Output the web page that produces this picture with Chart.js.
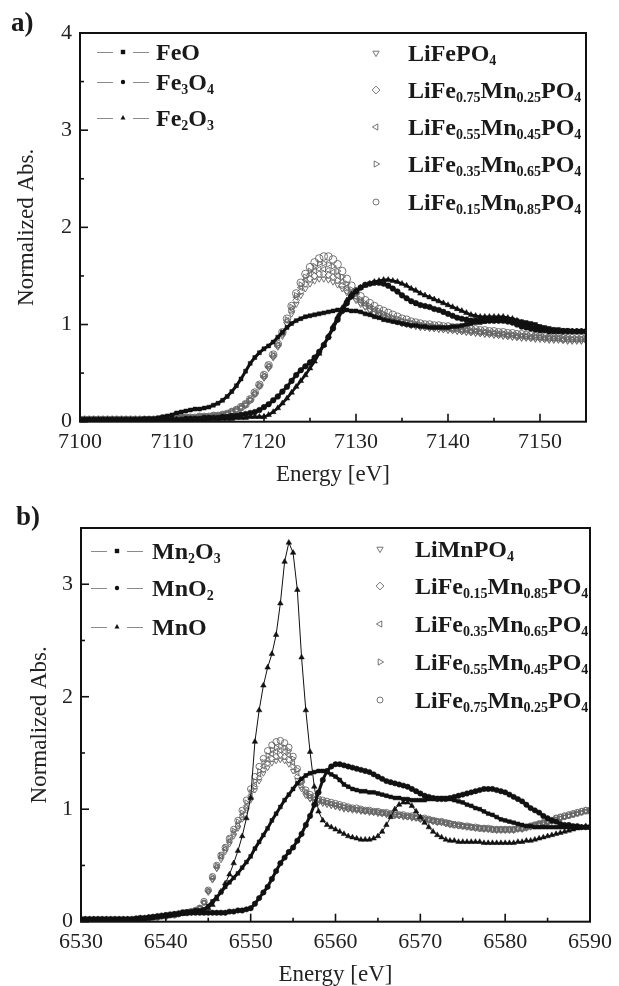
<!DOCTYPE HTML>
<html>
<head>
<title>Fe and Mn K-edge XANES</title>
<script src="https://cdn.jsdelivr.net/npm/chart.js@4.4.0/dist/chart.umd.min.js"></script>
<style>
  body { margin: 0; background: #fff; }
  #page { position: relative; width: 619px; height: 986px; overflow: hidden; font-family: "Liberation Serif", "DejaVu Serif", serif; color: #1a1a1a; }
  canvas.plot { position: absolute; left: 0; }
  .tag { position: absolute; font-weight: bold; font-size: 27px; line-height: 30px; }
  .row { position: absolute; display: flex; align-items: flex-start; white-space: nowrap; }
  .row canvas { display: block; }
  .lbl { font-weight: bold; font-size: 24px; line-height: 24px; }
  .lbl sub { font-size: 14px; vertical-align: baseline; position: relative; top: 8px; }
</style>
</head>
<body>
<div id="page">
  <canvas id="chart-a" class="plot" width="619" height="493" style="top:0"></canvas>
  <canvas id="chart-b" class="plot" width="619" height="493" style="top:493px"></canvas>
  <div class="tag" style="left:11px;top:7px">a)</div>
  <div class="tag" style="left:16px;top:501px">b)</div>
  <div id="legend"></div>
</div>
<script>
    // ---- panel a : Fe K-edge ----
    var energyA = [
        7100,7100.5,7101,7101.5,7102,7102.5,7103,7103.5,7104,7104.5,
        7105,7105.5,7106,7106.5,7107,7107.5,7108,7108.5,7109,7109.5,
        7110,7110.5,7111,7111.5,7112,7112.5,7113,7113.5,7114,7114.5,
        7115,7115.5,7116,7116.5,7117,7117.5,7118,7118.5,7119,7119.5,
        7120,7120.5,7121,7121.5,7122,7122.5,7123,7123.5,7124,7124.5,
        7125,7125.5,7126,7126.5,7127,7127.5,7128,7128.5,7129,7129.5,
        7130,7130.5,7131,7131.5,7132,7132.5,7133,7133.5,7134,7134.5,
        7135,7135.5,7136,7136.5,7137,7137.5,7138,7138.5,7139,7139.5,
        7140,7140.5,7141,7141.5,7142,7142.5,7143,7143.5,7144,7144.5,
        7145,7145.5,7146,7146.5,7147,7147.5,7148,7148.5,7149,7149.5,
        7150,7150.5,7151,7151.5,7152,7152.5,7153,7153.5,7154,7154.5,
        7155];

    var feO = [
        .02,.02,.02,.02,.02,.02,.02,.02,.02,.02,
        .02,.02,.02,.02,.03,.03,.03,.04,.05,.06,
        .07,.09,.10,.11,.12,.13,.13,.14,.15,.17,
        .19,.22,.26,.31,.37,.44,.52,.60,.66,.71,
        .75,.78,.82,.87,.92,.97,1.01,1.04,1.06,1.08,
        1.09,1.10,1.11,1.12,1.13,1.14,1.15,1.15,1.15,1.14,
        1.14,1.13,1.11,1.10,1.08,1.07,1.05,1.04,1.03,1.02,
        1.01,1.00,.99,.99,.98,.98,.97,.97,.97,.97,
        .97,.98,.98,.99,1.00,1.01,1.02,1.02,1.03,1.04,
        1.04,1.05,1.05,1.05,1.05,1.04,1.03,1.02,1.01,1.00,
        .98,.97,.96,.95,.95,.94,.94,.93,.93,.93,
        .93];
    var fe3O4 = [
        .02,.02,.02,.02,.02,.02,.02,.02,.02,.02,
        .02,.02,.02,.02,.02,.02,.02,.02,.02,.02,
        .02,.02,.02,.03,.03,.03,.03,.04,.04,.04,
        .04,.05,.05,.06,.06,.07,.08,.09,.10,.12,
        .15,.18,.22,.26,.31,.36,.42,.48,.53,.57,
        .61,.66,.72,.79,.87,.96,1.05,1.14,1.22,1.29,
        1.34,1.38,1.41,1.42,1.43,1.43,1.42,1.40,1.37,1.34,
        1.30,1.27,1.24,1.22,1.20,1.19,1.18,1.16,1.15,1.13,
        1.11,1.09,1.07,1.06,1.05,1.04,1.04,1.04,1.04,1.04,
        1.04,1.04,1.04,1.03,1.02,1.00,.98,.97,.96,.95,
        .94,.94,.93,.93,.93,.93,.93,.93,.93,.93,
        .93];
    var fe2O3 = [
        .02,.02,.02,.02,.02,.02,.02,.02,.02,.02,
        .02,.02,.02,.02,.02,.02,.02,.02,.02,.02,
        .02,.02,.02,.02,.02,.02,.02,.02,.03,.03,
        .03,.03,.03,.03,.04,.04,.04,.05,.05,.05,
        .05,.07,.10,.14,.19,.24,.30,.36,.42,.48,
        .55,.62,.70,.79,.88,.98,1.08,1.17,1.25,1.31,
        1.35,1.38,1.40,1.42,1.44,1.45,1.46,1.46,1.45,1.44,
        1.42,1.40,1.37,1.35,1.32,1.30,1.28,1.26,1.24,1.22,
        1.20,1.18,1.16,1.14,1.12,1.10,1.09,1.08,1.08,1.08,
        1.08,1.08,1.08,1.07,1.06,1.04,1.02,1.00,.98,.97,
        .96,.95,.94,.94,.93,.93,.93,.93,.93,.93,
        .93];
    var liFePO4 = [
        .02,.02,.02,.02,.02,.02,.02,.02,.02,.02,
        .02,.02,.02,.02,.02,.02,.02,.02,.03,.03,
        .03,.03,.04,.04,.04,.04,.05,.05,.05,.06,
        .06,.07,.08,.09,.11,.14,.17,.22,.28,.36,
        .45,.55,.66,.77,.88,1.00,1.11,1.21,1.30,1.37,
        1.42,1.45,1.47,1.47,1.46,1.44,1.41,1.37,1.33,1.29,
        1.25,1.21,1.18,1.15,1.12,1.10,1.08,1.06,1.04,1.03,
        1.01,1.00,.99,.98,.97,.97,.96,.96,.95,.95,
        .94,.94,.93,.93,.92,.92,.91,.91,.90,.90,
        .89,.89,.88,.88,.87,.87,.86,.86,.86,.85,
        .85,.85,.84,.84,.84,.84,.83,.83,.83,.83,
        .83];
    var fe75A = [
        .02,.02,.02,.02,.02,.02,.02,.02,.02,.02,
        .02,.02,.02,.02,.02,.02,.02,.02,.03,.03,
        .03,.03,.04,.04,.04,.04,.05,.05,.05,.06,
        .06,.07,.08,.10,.12,.14,.18,.22,.29,.37,
        .46,.56,.67,.78,.90,1.02,1.14,1.25,1.34,1.42,
        1.47,1.50,1.52,1.52,1.51,1.49,1.45,1.40,1.35,1.31,
        1.27,1.23,1.19,1.16,1.13,1.11,1.09,1.07,1.05,1.03,
        1.02,1.01,1.00,.99,.98,.97,.97,.96,.96,.95,
        .95,.94,.94,.93,.93,.92,.92,.91,.91,.90,
        .90,.89,.89,.88,.88,.87,.87,.87,.86,.86,
        .86,.85,.85,.85,.85,.84,.84,.84,.84,.84,
        .84];
    var fe55A = [
        .02,.02,.02,.02,.02,.02,.02,.02,.02,.02,
        .02,.02,.02,.02,.02,.02,.02,.02,.03,.03,
        .03,.03,.04,.04,.04,.04,.05,.05,.05,.06,
        .06,.07,.08,.10,.12,.15,.18,.23,.29,.37,
        .47,.57,.68,.79,.91,1.04,1.16,1.28,1.38,1.46,
        1.52,1.55,1.57,1.57,1.56,1.54,1.50,1.44,1.38,1.33,
        1.28,1.24,1.21,1.18,1.15,1.12,1.10,1.08,1.06,1.05,
        1.03,1.02,1.01,1.00,.99,.98,.98,.97,.97,.96,
        .96,.95,.95,.94,.94,.93,.93,.92,.92,.91,
        .91,.90,.90,.89,.89,.88,.88,.88,.87,.87,
        .87,.86,.86,.86,.86,.85,.85,.85,.85,.85,
        .85];
    var fe35A = [
        .02,.02,.02,.02,.02,.02,.02,.02,.02,.02,
        .02,.02,.02,.02,.02,.02,.02,.02,.03,.03,
        .03,.03,.04,.04,.04,.04,.05,.05,.05,.06,
        .06,.07,.08,.10,.12,.15,.18,.23,.30,.38,
        .48,.58,.69,.80,.92,1.05,1.18,1.30,1.41,1.49,
        1.55,1.60,1.63,1.63,1.62,1.60,1.55,1.49,1.42,1.36,
        1.31,1.26,1.22,1.19,1.16,1.14,1.11,1.09,1.07,1.06,
        1.04,1.03,1.02,1.01,1.00,.99,.99,.98,.98,.97,
        .97,.96,.96,.95,.95,.94,.94,.93,.93,.92,
        .92,.91,.91,.90,.90,.89,.89,.88,.88,.88,
        .87,.87,.87,.86,.86,.86,.86,.85,.85,.85,
        .85];
    var fe15A = [
        .02,.02,.02,.02,.02,.02,.02,.02,.02,.02,
        .02,.02,.02,.02,.02,.02,.02,.02,.03,.03,
        .03,.03,.04,.04,.04,.04,.05,.05,.05,.06,
        .06,.07,.08,.10,.12,.15,.18,.23,.30,.38,
        .48,.58,.69,.80,.92,1.06,1.19,1.32,1.43,1.52,
        1.59,1.64,1.68,1.70,1.70,1.67,1.62,1.55,1.47,1.40,
        1.34,1.29,1.25,1.22,1.19,1.16,1.14,1.12,1.10,1.08,
        1.06,1.05,1.03,1.02,1.01,1.00,1.00,.99,.99,.98,
        .98,.97,.97,.96,.96,.95,.95,.94,.94,.93,
        .93,.92,.92,.91,.91,.90,.90,.89,.89,.88,
        .88,.88,.87,.87,.87,.86,.86,.86,.86,.86,
        .86];

    // ---- panel b : Mn K-edge ----
    var energyB = [
        6530,6530.5,6531,6531.5,6532,6532.5,6533,6533.5,6534,6534.5,
        6535,6535.5,6536,6536.5,6537,6537.5,6538,6538.5,6539,6539.5,
        6540,6540.5,6541,6541.5,6542,6542.5,6543,6543.5,6544,6544.5,
        6545,6545.5,6546,6546.5,6547,6547.5,6548,6548.5,6549,6549.5,
        6550,6550.5,6551,6551.5,6552,6552.5,6553,6553.5,6554,6554.5,
        6555,6555.5,6556,6556.5,6557,6557.5,6558,6558.5,6559,6559.5,
        6560,6560.5,6561,6561.5,6562,6562.5,6563,6563.5,6564,6564.5,
        6565,6565.5,6566,6566.5,6567,6567.5,6568,6568.5,6569,6569.5,
        6570,6570.5,6571,6571.5,6572,6572.5,6573,6573.5,6574,6574.5,
        6575,6575.5,6576,6576.5,6577,6577.5,6578,6578.5,6579,6579.5,
        6580,6580.5,6581,6581.5,6582,6582.5,6583,6583.5,6584,6584.5,
        6585,6585.5,6586,6586.5,6587,6587.5,6588,6588.5,6589,6589.5,
        6590];

    var mn2O3 = [
        .02,.02,.02,.02,.02,.02,.02,.02,.02,.02,
        .02,.02,.02,.02,.03,.03,.03,.04,.04,.05,
        .05,.06,.06,.07,.08,.09,.09,.10,.10,.11,
        .14,.18,.22,.26,.31,.35,.39,.43,.48,.53,
        .58,.65,.71,.77,.83,.90,.96,1.02,1.08,1.13,
        1.18,1.23,1.27,1.30,1.32,1.33,1.34,1.34,1.33,1.31,
        1.29,1.26,1.22,1.20,1.18,1.17,1.16,1.16,1.15,1.15,
        1.14,1.13,1.12,1.11,1.10,1.10,1.09,1.09,1.08,1.08,
        1.08,1.08,1.09,1.09,1.10,1.10,1.10,1.09,1.08,1.07,
        1.06,1.04,1.03,1.01,1.00,.98,.96,.95,.93,.91,
        .90,.89,.88,.87,.86,.85,.85,.84,.84,.84,
        .84,.84,.84,.84,.84,.84,.84,.84,.84,.84,
        .84];
    var mnO2 = [
        .02,.02,.02,.02,.02,.02,.02,.02,.02,.02,
        .02,.02,.02,.03,.03,.03,.04,.04,.05,.05,
        .06,.06,.07,.07,.08,.08,.08,.08,.08,.08,
        .08,.08,.08,.08,.08,.09,.09,.10,.10,.11,
        .12,.16,.21,.26,.31,.38,.45,.52,.57,.62,
        .66,.72,.78,.86,.94,1.04,1.15,1.26,1.34,1.38,
        1.40,1.40,1.39,1.38,1.37,1.36,1.35,1.34,1.33,1.31,
        1.29,1.27,1.25,1.24,1.23,1.22,1.21,1.20,1.18,1.16,
        1.14,1.12,1.11,1.10,1.09,1.09,1.09,1.10,1.11,1.12,
        1.13,1.14,1.15,1.16,1.17,1.18,1.18,1.18,1.17,1.16,
        1.15,1.13,1.11,1.09,1.07,1.04,1.01,.99,.97,.94,
        .92,.90,.89,.87,.86,.86,.85,.85,.84,.84,
        .84];
    var mnO = [
        .02,.02,.02,.02,.02,.02,.02,.02,.02,.02,
        .02,.02,.02,.02,.03,.03,.03,.04,.04,.05,
        .05,.06,.06,.07,.07,.08,.08,.09,.09,.10,
        .12,.15,.20,.27,.34,.42,.52,.63,.76,.92,
        1.10,1.60,1.88,2.10,2.26,2.38,2.55,2.83,3.20,3.37,
        3.28,2.95,2.35,1.88,1.51,1.20,.98,.90,.86,.84,
        .82,.80,.78,.76,.75,.74,.73,.73,.73,.74,
        .76,.80,.86,.93,1.00,1.04,1.06,1.06,1.03,.98,
        .93,.88,.84,.80,.77,.75,.73,.72,.72,.71,
        .71,.71,.71,.71,.71,.70,.70,.70,.70,.70,
        .70,.70,.70,.71,.71,.72,.72,.73,.74,.75,
        .76,.77,.78,.79,.80,.81,.82,.83,.84,.85,
        .85];
    var liMnPO4 = [
        .02,.02,.02,.02,.02,.02,.02,.02,.02,.02,
        .02,.02,.02,.02,.03,.03,.03,.04,.04,.05,
        .05,.06,.06,.07,.08,.08,.09,.10,.12,.17,
        .26,.37,.47,.55,.62,.69,.76,.83,.91,.99,
        1.08,1.17,1.25,1.32,1.37,1.41,1.43,1.44,1.43,1.40,
        1.34,1.26,1.18,1.12,1.09,1.07,1.06,1.05,1.04,1.03,
        1.02,1.01,1.00,1.00,.99,.99,.98,.98,.97,.97,
        .96,.96,.95,.95,.94,.94,.93,.93,.92,.92,
        .91,.90,.90,.89,.88,.88,.87,.86,.86,.85,
        .85,.84,.84,.83,.83,.82,.82,.82,.81,.81,
        .81,.81,.81,.82,.82,.83,.84,.85,.86,.87,
        .88,.89,.91,.92,.93,.94,.95,.96,.97,.98,
        .98];
    var fe15B = [
        .02,.02,.02,.02,.02,.02,.02,.02,.02,.02,
        .02,.02,.02,.02,.03,.03,.03,.04,.04,.05,
        .05,.06,.06,.07,.08,.08,.09,.10,.12,.17,
        .27,.38,.48,.57,.64,.71,.78,.85,.93,1.01,
        1.10,1.20,1.28,1.35,1.41,1.45,1.47,1.48,1.47,1.44,
        1.38,1.29,1.20,1.14,1.10,1.08,1.07,1.06,1.05,1.04,
        1.03,1.02,1.01,1.00,1.00,.99,.99,.98,.98,.97,
        .97,.96,.96,.95,.95,.94,.94,.93,.93,.92,
        .91,.91,.90,.89,.89,.88,.87,.87,.86,.85,
        .85,.84,.84,.83,.83,.83,.82,.82,.82,.82,
        .82,.82,.82,.83,.83,.84,.85,.86,.87,.88,
        .89,.90,.92,.93,.94,.95,.96,.97,.98,.99,
        .99];
    var fe35B = [
        .02,.02,.02,.02,.02,.02,.02,.02,.02,.02,
        .02,.02,.02,.02,.03,.03,.03,.04,.04,.05,
        .05,.06,.06,.07,.08,.08,.09,.10,.12,.17,
        .27,.39,.49,.58,.65,.72,.80,.87,.95,1.03,
        1.12,1.22,1.31,1.38,1.44,1.49,1.51,1.52,1.51,1.48,
        1.41,1.32,1.22,1.15,1.11,1.09,1.08,1.07,1.06,1.05,
        1.04,1.03,1.02,1.01,1.00,1.00,.99,.99,.98,.98,
        .97,.97,.96,.96,.95,.95,.94,.94,.93,.93,
        .92,.91,.91,.90,.89,.89,.88,.87,.87,.86,
        .85,.85,.84,.84,.83,.83,.83,.82,.82,.82,
        .82,.82,.82,.83,.83,.84,.85,.86,.87,.88,
        .89,.90,.91,.92,.93,.94,.95,.96,.97,.98,
        .98];
    var fe55B = [
        .02,.02,.02,.02,.02,.02,.02,.02,.02,.02,
        .02,.02,.02,.02,.03,.03,.03,.04,.04,.05,
        .05,.06,.06,.07,.08,.08,.09,.10,.12,.17,
        .28,.40,.50,.59,.66,.74,.81,.89,.97,1.06,
        1.15,1.25,1.34,1.42,1.48,1.53,1.55,1.56,1.55,1.52,
        1.45,1.35,1.24,1.16,1.12,1.10,1.08,1.07,1.06,1.05,
        1.04,1.03,1.02,1.02,1.01,1.00,1.00,.99,.99,.98,
        .98,.97,.97,.96,.96,.95,.95,.94,.94,.93,
        .92,.92,.91,.90,.90,.89,.88,.88,.87,.86,
        .86,.85,.85,.84,.84,.83,.83,.83,.82,.82,
        .82,.82,.82,.83,.83,.84,.85,.86,.87,.88,
        .89,.90,.91,.92,.93,.94,.95,.96,.97,.98,
        .98];
    var fe75B = [
        .02,.02,.02,.02,.02,.02,.02,.02,.02,.02,
        .02,.02,.02,.02,.03,.03,.03,.04,.04,.05,
        .05,.06,.06,.07,.08,.08,.09,.10,.12,.18,
        .28,.40,.50,.59,.66,.74,.82,.90,.99,1.08,
        1.18,1.29,1.38,1.45,1.52,1.57,1.60,1.61,1.59,1.55,
        1.47,1.36,1.25,1.17,1.13,1.11,1.09,1.08,1.07,1.06,
        1.05,1.04,1.03,1.02,1.01,1.01,1.00,.99,.99,.98,
        .98,.97,.97,.96,.96,.95,.95,.94,.94,.93,
        .92,.92,.91,.90,.89,.89,.88,.87,.86,.86,
        .85,.85,.84,.84,.83,.83,.83,.82,.82,.82,
        .82,.82,.82,.83,.83,.84,.85,.86,.87,.88,
        .89,.90,.92,.93,.94,.95,.96,.97,.98,.99,
        .99];

    // series names (digits become subscripts in the legend)
    var namesA = ['FeO', 'Fe3O4', 'Fe2O3', 'LiFePO4', 'LiFe0.75Mn0.25PO4', 'LiFe0.55Mn0.45PO4', 'LiFe0.35Mn0.65PO4', 'LiFe0.15Mn0.85PO4'];
    var namesB = ['Mn2O3', 'MnO2', 'MnO', 'LiMnPO4', 'LiFe0.15Mn0.85PO4', 'LiFe0.35Mn0.65PO4', 'LiFe0.55Mn0.45PO4', 'LiFe0.75Mn0.25PO4'];
    var valuesA = [feO, fe3O4, fe2O3, liFePO4, fe75A, fe55A, fe35A, fe15A];
    var valuesB = [mn2O3, mnO2, mnO, liMnPO4, fe15B, fe35B, fe55B, fe75B];

    // marker look per series position (3 reference oxides, then 5 phosphates)
    var marks = [
        {style: 'rect', rot: 0, filled: true},
        {style: 'circle', rot: 0, filled: true},
        {style: 'triangle', rot: 0, filled: true},
        {style: 'triangle', rot: 180, filled: false},
        {style: 'rectRot', rot: 0, filled: false},
        {style: 'triangle', rot: 270, filled: false},
        {style: 'triangle', rot: 90, filled: false},
        {style: 'circle', rot: 0, filled: false}
    ];
    var GREY = '#666666';
    var INK = '#111111';

    function toPoints(energy, vals) {
        return vals.map(function (v, i) { return {x: energy[i], y: v}; });
    }

    function buildDatasets(energy, values, names, look) {
        return values.map(function (vals, i) {
            var m = marks[i];
            return {
                label: names[i],
                data: toPoints(energy, vals),
                showLine: m.filled,
                borderColor: INK,
                borderWidth: look.lineWidth[i] || 1,
                pointStyle: m.style,
                rotation: m.rot,
                pointRadius: m.filled ? (m.style === 'triangle' ? look.solid + 0.5 : look.solid) : look.open[i - 3],
                pointBorderWidth: m.filled ? 0.5 : 0.9,
                pointBackgroundColor: m.filled ? INK : 'rgba(0,0,0,0)',
                pointBorderColor: m.filled ? INK : GREY
            };
        });
    }

    // box round the plot and inward ticks, placed through the scales
    var framePlugin = {
        id: 'frame',
        afterDatasetsDraw: function (chart) {
            var ctx = chart.ctx, a = chart.chartArea;
            var xs = chart.scales.x, ys = chart.scales.y;
            ctx.save();
            ctx.strokeStyle = INK;
            ctx.lineWidth = 1.6;
            xs.ticks.forEach(function (t) {
                var px = xs.getPixelForValue(t.value);
                var len = (t.value % 10 === 0) ? 8 : 4;
                ctx.beginPath(); ctx.moveTo(px, a.bottom); ctx.lineTo(px, a.bottom - len); ctx.stroke();
            });
            ys.ticks.forEach(function (t) {
                var py = ys.getPixelForValue(t.value);
                var len = (Math.abs(t.value - Math.round(t.value)) < 1e-6) ? 8 : 4;
                ctx.beginPath(); ctx.moveTo(a.left, py); ctx.lineTo(a.left + len, py); ctx.stroke();
            });
            ctx.lineWidth = 2;
            ctx.strokeRect(a.left, a.top, a.right - a.left, a.bottom - a.top);
            ctx.restore();
        }
    };

    var tickFont = {family: 'Liberation Serif', size: 22};
    var titleFont = {family: 'Liberation Serif', size: 23, lineHeight: 1};

    function makeChart(id, datasets, cfg) {
        return new Chart(document.getElementById(id), {
            type: 'scatter',
            data: {datasets: datasets},
            options: {
                responsive: false,
                animation: false,
                devicePixelRatio: 1,
                layout: {padding: {top: cfg.padTop, right: cfg.padRight, left: 0, bottom: 0}},
                plugins: {legend: {display: false}, tooltip: {enabled: false}},
                scales: {
                    x: {
                        type: 'linear', min: cfg.xMin, max: cfg.xMax,
                        grid: {display: false, drawTicks: false},
                        border: {display: false},
                        ticks: {
                            stepSize: 5, autoSkip: false, maxRotation: 0, padding: 7,
                            color: '#222', font: tickFont,
                            callback: function (v) { return v % 10 === 0 ? String(v) : ''; }
                        },
                        title: {display: true, text: 'Energy [eV]', color: '#222', font: titleFont,
                                padding: {top: 0, bottom: cfg.xTitlePad}},
                        afterFit: function (s) { s.height = cfg.xHeight; }
                    },
                    y: {
                        min: 0, max: cfg.yMax,
                        grid: {display: false, drawTicks: false},
                        border: {display: false},
                        ticks: {
                            stepSize: 0.5, padding: 8, color: '#222', font: tickFont,
                            callback: function (v) { return Math.abs(v - Math.round(v)) < 1e-6 ? String(v) : ''; }
                        },
                        title: {display: true, text: 'Normalized Abs.', color: '#222', font: titleFont,
                                padding: {top: cfg.yTitlePad, bottom: 0}},
                        afterFit: function (s) { s.width = cfg.yWidth; }
                    }
                }
            },
            plugins: [framePlugin]
        });
    }

    makeChart('chart-a', buildDatasets(energyA, valuesA, namesA, {solid: 2.8, lineWidth: [3, 3, 2.6], open: [3.4, 3.4, 3.4, 3.4, 3.8]}), {
        xMin: 7100, xMax: 7155, yMax: 4, padTop: 33, padRight: 33,
        yWidth: 80, xHeight: 71.3, xTitlePad: 7, yTitlePad: 15.5
    });
    makeChart('chart-b', buildDatasets(energyB, valuesB, namesB, {solid: 2.7, lineWidth: [3, 3, 1], open: [3, 3, 3, 3, 3.2]}), {
        xMin: 6530, xMax: 6590, yMax: 3.5, padTop: 35, padRight: 27,
        yWidth: 81, xHeight: 64.3, xTitlePad: 0, yTitlePad: 28.5
    });

    // ---- html legend with subscripts ----
    function formula(name) {
        return name.replace(/(\d+(?:\.\d+)?)/g, '<sub>$1</sub>');
    }

    function drawMark(c, m, x, y, r) {
        c.save();
        c.fillStyle = INK;
        c.strokeStyle = m.filled ? INK : GREY;
        c.lineWidth = 0.9;
        c.beginPath();
        if (m.style === 'rect') {
            c.rect(x - r, y - r, 2 * r, 2 * r);
        } else if (m.style === 'rectRot') {
            c.moveTo(x, y - r * 1.3); c.lineTo(x + r * 1.3, y); c.lineTo(x, y + r * 1.3); c.lineTo(x - r * 1.3, y); c.closePath();
        } else if (m.style === 'circle') {
            c.arc(x, y, r, 0, Math.PI * 2);
        } else {
            var base = (m.rot - 90) * Math.PI / 180;
            for (var k = 0; k < 3; k++) {
                var ang = base + k * 2 * Math.PI / 3;
                var px = x + r * 1.2 * Math.cos(ang), py = y + r * 1.2 * Math.sin(ang);
                if (k === 0) c.moveTo(px, py); else c.lineTo(px, py);
            }
            c.closePath();
        }
        if (m.filled) c.fill(); else c.stroke();
        c.restore();
    }

    // legend placement per panel: oxide rows (line + marker) and phosphate rows (marker only)
    var legendRows = [
        {names: namesA, lineX: 97, textX: 156, ys: [52, 82, 118], markX: 376, textX2: 408, ys2: [53, 90, 127, 164, 202]},
        {names: namesB, lineX: 91, textX: 152, ys: [551, 588, 627], markX: 380, textX2: 415, ys2: [549, 586, 624, 662, 700]}
    ];
    var holder = document.getElementById('legend');
    legendRows.forEach(function (p) {
        p.names.forEach(function (name, i) {
            var m = marks[i];
            var oxide = i < 3;
            var y = oxide ? p.ys[i] : p.ys2[i - 3];
            var cv = document.createElement('canvas');
            cv.width = oxide ? 52 : 14; cv.height = 14;
            cv.style.position = 'absolute';
            cv.style.left = (oxide ? p.lineX : p.markX - 7) + 'px';
            cv.style.top = (y - 7) + 'px';
            var c = cv.getContext('2d');
            if (oxide) {
                c.strokeStyle = '#8a8a8a'; c.lineWidth = 1;
                c.beginPath(); c.moveTo(0, 7.5); c.lineTo(16, 7.5); c.moveTo(36, 7.5); c.lineTo(52, 7.5); c.stroke();
                drawMark(c, m, 26, 7, m.style === 'triangle' ? 2.4 : 2.2);
            } else {
                drawMark(c, m, 7, 7, 3);
            }
            holder.appendChild(cv);
            var t = document.createElement('div');
            t.className = 'row lbl';
            t.style.left = (oxide ? p.textX : p.textX2) + 'px';
            t.style.top = (y - 12) + 'px';
            t.innerHTML = formula(name);
            holder.appendChild(t);
        });
    });
</script>
</body>
</html>
